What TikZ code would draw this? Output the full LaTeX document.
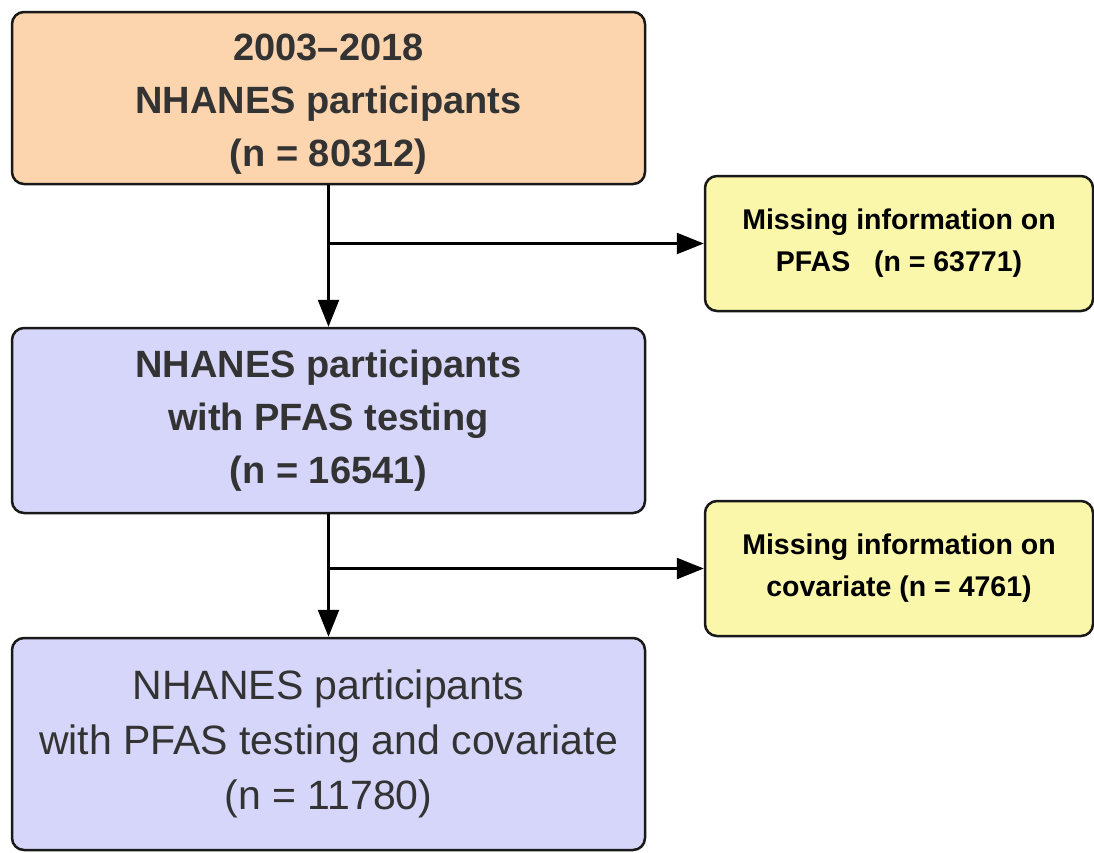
\documentclass[tikz,border=0pt]{standalone}
\usepackage{fontspec}
\setmainfont{Liberation Sans}
\usetikzlibrary{arrows.meta,positioning}

\definecolor{boxorange}{HTML}{FCD5AE}
\definecolor{boxblue}{HTML}{D6D6FA}
\definecolor{boxyellow}{HTML}{FAF6AA}
\definecolor{boxtext}{HTML}{333333}

\begin{document}
\begin{tikzpicture}[
		x=1pt,y=-1pt,
		stage/.style={draw=black!90,line width=2.5pt,rounded corners=12pt,
			minimum width=633pt,align=center,text=boxtext,
			font=\bfseries\fontsize{38}{53}\selectfont},
		laststage/.style={stage,font=\fontsize{41}{55}\selectfont},
		missbox/.style={draw=black!90,line width=2.5pt,rounded corners=12pt,
			fill=boxyellow,minimum width=388pt,minimum height=135pt,align=center,
			font=\bfseries\fontsize{28.5}{42}\selectfont},
		arr/.style={line width=2.5pt,-{Triangle[length=27pt,width=21pt]}}
		]
		\useasboundingbox (0,0) rectangle (1094,852);
		% main stages
		\node[stage,fill=boxorange,minimum height=172pt] (all) at (328.5,98) {};
		\node at (328.5,104) [text=boxtext,align=center,font=\bfseries\fontsize{38}{53}\selectfont] (alltext) {2003--2018\\NHANES participants\\(n = 80312)};
		\node[stage,fill=boxblue,minimum height=185pt] (pfas) at (328.5,420.5) {NHANES participants\\with PFAS testing\\(n = 16541)};
		\node[laststage,fill=boxblue,minimum height=212pt] (final) at (328.5,744) {NHANES participants\\with PFAS testing and covariate\\(n = 11780)};
		% exclusions
		\node[missbox] (misspfas) at (899,243.5) {Missing information on\\PFAS\ \ \ (n = 63771)};
		\node[missbox] (misscov) at (899,568.5) {Missing information on\\covariate (n = 4761)};
		
		\draw[arr] (all.south) -- (pfas.north);
		\draw[arr] (all.south |- misspfas.west) -- (misspfas.west);
		\draw[arr] (pfas.south) -- (final.north);
		\draw[arr] (pfas.south |- misscov.west) -- (misscov.west);
	\end{tikzpicture}
\end{document}
